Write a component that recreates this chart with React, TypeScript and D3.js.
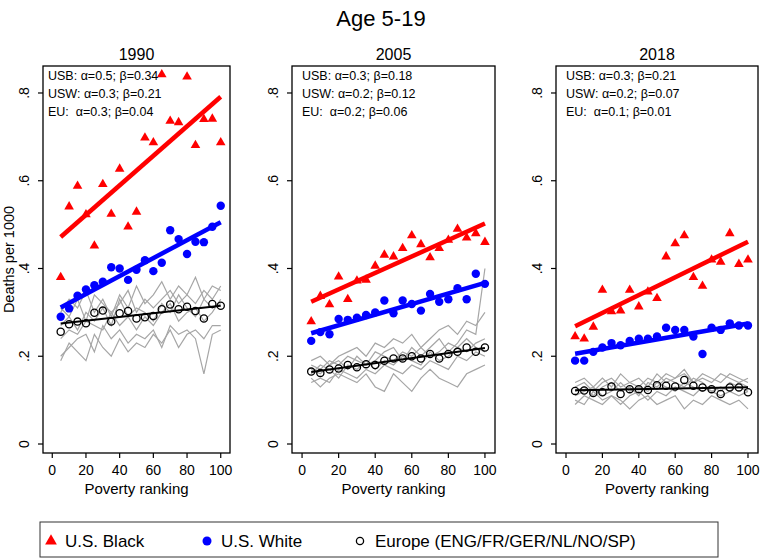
import React from "react";
import * as d3 from "d3";

// ---------- data ----------
const povertyRank = [5, 10, 15, 20, 25, 30, 35, 40, 45, 50, 55, 60, 65, 70, 75, 80, 85, 90, 95, 100];
const years = ["1990", "2005", "2018"];
const xTicks = [0, 20, 40, 60, 80, 100];
const yTicks = [0, 0.2, 0.4, 0.6, 0.8];
const yTickLabels = ["0", ".2", ".4", ".6", ".8"];

const usBlack1990 = [0.38, 0.541, 0.588, 0.523, 0.452, 0.592, 0.524, 0.627, 0.495, 0.529, 0.698, 0.687, 0.842, 0.736, 0.733, 0.837, 0.681, 0.74, 0.741, 0.687];
const usWhite1990 = [0.29, 0.309, 0.338, 0.352, 0.362, 0.37, 0.403, 0.4, 0.374, 0.397, 0.419, 0.394, 0.413, 0.487, 0.467, 0.433, 0.461, 0.46, 0.495, 0.543];
const europe1990 = [0.256, 0.273, 0.279, 0.275, 0.299, 0.304, 0.279, 0.298, 0.303, 0.286, 0.289, 0.292, 0.307, 0.318, 0.307, 0.313, 0.303, 0.286, 0.319, 0.315];
const countries1990 = [
  [0.2, 0.22, 0.24, 0.25, 0.21, 0.27, 0.24, 0.26, 0.23, 0.25, 0.24, 0.26, 0.22, 0.27, 0.25, 0.26, 0.24, 0.16, 0.25, 0.26],
  [0.3, 0.33, 0.31, 0.35, 0.3, 0.33, 0.29, 0.34, 0.31, 0.36, 0.32, 0.34, 0.37, 0.33, 0.36, 0.34, 0.38, 0.33, 0.36, 0.35],
  [0.27, 0.29, 0.26, 0.3, 0.28, 0.31, 0.27, 0.33, 0.29, 0.31, 0.3, 0.28, 0.32, 0.3, 0.34, 0.31, 0.29, 0.33, 0.31, 0.32],
  [0.24, 0.26, 0.25, 0.28, 0.27, 0.26, 0.3, 0.27, 0.29, 0.26, 0.29, 0.27, 0.3, 0.32, 0.28, 0.3, 0.31, 0.28, 0.3, 0.33],
  [0.31, 0.29, 0.33, 0.28, 0.34, 0.32, 0.3, 0.32, 0.35, 0.3, 0.33, 0.31, 0.33, 0.35, 0.32, 0.34, 0.32, 0.35, 0.33, 0.36],
  [0.19, 0.23, 0.21, 0.19, 0.25, 0.22, 0.2, 0.24, 0.21, 0.23, 0.22, 0.25, 0.23, 0.26, 0.22, 0.25, 0.26, 0.24, 0.27, 0.27],
];

const usBlack2005 = [0.279, 0.337, 0.318, 0.381, 0.33, 0.372, 0.374, 0.406, 0.431, 0.427, 0.446, 0.475, 0.455, 0.425, 0.446, 0.465, 0.49, 0.47, 0.48, 0.46];
const usWhite2005 = [0.235, 0.255, 0.25, 0.285, 0.283, 0.288, 0.294, 0.3, 0.327, 0.298, 0.327, 0.319, 0.304, 0.342, 0.324, 0.33, 0.355, 0.33, 0.388, 0.365];
const europe2005 = [0.165, 0.162, 0.17, 0.172, 0.18, 0.175, 0.182, 0.18, 0.19, 0.195, 0.195, 0.2, 0.195, 0.205, 0.195, 0.205, 0.21, 0.22, 0.21, 0.22];
const countries2005 = [
  [0.15, 0.13, 0.15, 0.16, 0.15, 0.14, 0.16, 0.13, 0.12, 0.16, 0.14, 0.12, 0.15, 0.17, 0.15, 0.14, 0.13, 0.16, 0.17, 0.18],
  [0.18, 0.17, 0.19, 0.18, 0.2, 0.19, 0.18, 0.21, 0.2, 0.19, 0.21, 0.2, 0.22, 0.2, 0.21, 0.23, 0.22, 0.21, 0.23, 0.24],
  [0.16, 0.18, 0.17, 0.15, 0.18, 0.17, 0.19, 0.17, 0.19, 0.18, 0.2, 0.19, 0.18, 0.21, 0.19, 0.2, 0.22, 0.24, 0.22, 0.21],
  [0.17, 0.16, 0.18, 0.19, 0.17, 0.2, 0.18, 0.19, 0.21, 0.22, 0.19, 0.22, 0.2, 0.22, 0.24, 0.21, 0.23, 0.26, 0.25, 0.4],
  [0.14, 0.15, 0.14, 0.17, 0.16, 0.15, 0.17, 0.16, 0.18, 0.17, 0.16, 0.18, 0.17, 0.19, 0.18, 0.17, 0.2, 0.19, 0.21, 0.2],
  [0.19, 0.2, 0.18, 0.2, 0.21, 0.22, 0.2, 0.23, 0.22, 0.24, 0.23, 0.25, 0.22, 0.24, 0.26, 0.27, 0.25, 0.28, 0.27, 0.3],
];

const usBlack2018 = [0.245, 0.24, 0.267, 0.351, 0.302, 0.304, 0.351, 0.313, 0.347, 0.332, 0.427, 0.457, 0.475, 0.38, 0.36, 0.42, 0.415, 0.48, 0.41, 0.42];
const usWhite2018 = [0.19, 0.19, 0.21, 0.22, 0.23, 0.225, 0.235, 0.24, 0.24, 0.245, 0.265, 0.26, 0.26, 0.245, 0.205, 0.265, 0.26, 0.275, 0.27, 0.27];
const europe2018 = [0.121, 0.122, 0.116, 0.118, 0.131, 0.114, 0.125, 0.125, 0.123, 0.134, 0.133, 0.131, 0.146, 0.133, 0.129, 0.125, 0.114, 0.129, 0.129, 0.118];
const countries2018 = [
  [0.09, 0.11, 0.1, 0.09, 0.11, 0.1, 0.08, 0.1, 0.11, 0.09, 0.1, 0.11, 0.08, 0.1, 0.09, 0.11, 0.1, 0.09, 0.1, 0.08],
  [0.13, 0.14, 0.12, 0.14, 0.15, 0.13, 0.14, 0.15, 0.13, 0.16, 0.14, 0.15, 0.17, 0.14, 0.15, 0.14, 0.16, 0.15, 0.14, 0.15],
  [0.11, 0.12, 0.13, 0.11, 0.12, 0.14, 0.12, 0.13, 0.12, 0.14, 0.13, 0.12, 0.14, 0.13, 0.12, 0.13, 0.12, 0.14, 0.13, 0.12],
  [0.12, 0.13, 0.11, 0.13, 0.14, 0.12, 0.13, 0.11, 0.14, 0.13, 0.15, 0.14, 0.13, 0.15, 0.14, 0.12, 0.13, 0.12, 0.14, 0.13],
  [0.1, 0.09, 0.12, 0.1, 0.11, 0.09, 0.11, 0.12, 0.1, 0.12, 0.11, 0.13, 0.12, 0.11, 0.13, 0.12, 0.11, 0.12, 0.11, 0.12],
  [0.14, 0.15, 0.13, 0.15, 0.13, 0.16, 0.14, 0.13, 0.15, 0.14, 0.16, 0.15, 0.16, 0.14, 0.16, 0.15, 0.14, 0.16, 0.15, 0.14],
];

const annot1990 = ["USB: α=0.5; β=0.34", "USW: α=0.3; β=0.21", "EU:  α=0.3; β=0.04"];
const annot2005 = ["USB: α=0.3; β=0.18", "USW: α=0.2; β=0.12", "EU:  α=0.2; β=0.06"];
const annot2018 = ["USB: α=0.3; β=0.21", "USW: α=0.2; β=0.07", "EU:  α=0.1; β=0.01"];

const legendLabels = ["U.S. Black", "U.S. White", "Europe (ENG/FR/GER/NL/NO/SP)"];

const panelData = [
  { black: usBlack1990, white: usWhite1990, eu: europe1990, countries: countries1990, annot: annot1990 },
  { black: usBlack2005, white: usWhite2005, eu: europe2005, countries: countries2005, annot: annot2005 },
  { black: usBlack2018, white: usWhite2018, eu: europe2018, countries: countries2018, annot: annot2018 },
];

// ---------- layout ----------
const W = 762;
const H = 560;
const FONT = "'Liberation Sans', Arial, Helvetica, sans-serif";
const panelBox = [
  { left: 43, right: 230 },
  { left: 292, right: 495 },
  { left: 556, right: 758 },
];
const TOP = 66;
const BOTTOM = 453;
const RED = "#ff0000";
const BLUE = "#0000ff";
const GRAY = "#a6a6a6";

function ols(xs: number[], ys: number[]) {
  const mx = d3.mean(xs) as number;
  const my = d3.mean(ys) as number;
  let sxy = 0, sxx = 0;
  xs.forEach((x, i) => { sxy += (x - mx) * (ys[i] - my); sxx += (x - mx) * (x - mx); });
  const b = sxy / sxx;
  return { a: my - b * mx, b };
}

const y = d3.scaleLinear().domain([-0.0205, 0.8615]).range([BOTTOM, TOP]);

function Panel({ idx }: { idx: number }) {
  const box = panelBox[idx];
  const d = panelData[idx];
  const x = d3.scaleLinear().domain([-5.5, 105.5]).range([box.left, box.right]);
  const line = d3.line<number>().x((_, i) => x(povertyRank[i])).y((v) => y(v));
  const tri = d3.symbol(d3.symbolTriangle, 40)() as string;
  const xMin = d3.min(povertyRank) as number;
  const xMax = d3.max(povertyRank) as number;
  const fit = (vals: number[], color: string, w: number) => {
    const { a, b } = ols(povertyRank, vals);
    return (
      <line x1={x(xMin)} y1={y(a + b * xMin)} x2={x(xMax)} y2={y(a + b * xMax)} stroke={color} strokeWidth={w} />
    );
  };
  const cx = (box.left + box.right) / 2;
  return (
    <g>
      <text x={cx} y={60} textAnchor="middle" fontSize={16} fontFamily={FONT}>{years[idx]}</text>
      {d.countries.map((c, i) => (
        <path key={i} d={line(c) as string} fill="none" stroke={GRAY} strokeWidth={1.2} />
      ))}
      {d.eu.map((v, i) => (
        <circle key={i} cx={x(povertyRank[i])} cy={y(v)} r={3.6} fill="none" stroke="#000" strokeWidth={1.3} />
      ))}
      {d.white.map((v, i) => (
        <circle key={i} cx={x(povertyRank[i])} cy={y(v)} r={4.2} fill={BLUE} />
      ))}
      {d.black.map((v, i) => (
        <path key={i} d={tri} transform={`translate(${x(povertyRank[i])},${y(v)})`} fill={RED} />
      ))}
      {fit(d.black, RED, 4.5)}
      {fit(d.white, BLUE, 4.5)}
      {fit(d.eu, "#000", 2)}
      <rect x={box.left} y={TOP} width={box.right - box.left} height={BOTTOM - TOP} fill="none" stroke="#000" strokeWidth={1.3} />
      {d.annot.map((t, i) => (
        <text key={i} x={box.left + (idx === 0 ? 5 : 10)} y={80 + i * 18} fontSize={12.5} fontFamily={FONT} style={{ whiteSpace: "pre" }}>{t}</text>
      ))}
      {yTicks.map((t, i) => (
        <g key={i}>
          <line x1={box.left - 5} x2={box.left} y1={y(t)} y2={y(t)} stroke="#000" strokeWidth={1.2} />
          <text transform={`translate(${box.left - 14},${y(t)}) rotate(-90)`} textAnchor="middle" fontSize={14} fontFamily={FONT}>{yTickLabels[i]}</text>
        </g>
      ))}
      {xTicks.map((t) => (
        <g key={t}>
          <line x1={x(t)} x2={x(t)} y1={BOTTOM} y2={BOTTOM + 5} stroke="#000" strokeWidth={1.2} />
          <text x={x(t)} y={475} textAnchor="middle" fontSize={14} fontFamily={FONT}>{t}</text>
        </g>
      ))}
      <text x={cx} y={494} textAnchor="middle" fontSize={15} fontFamily={FONT}>Poverty ranking</text>
    </g>
  );
}

export default function App() {
  const tri = d3.symbol(d3.symbolTriangle, 60)() as string;
  return (
    <svg width={W} height={H} style={{ display: "block", position: "absolute", left: 0, top: 0, background: "#fff" }}>
      <rect x={0} y={0} width={W} height={H} fill="#fff" />
      <text x={381} y={26} textAnchor="middle" fontSize={22} fontFamily={FONT}>Age 5-19</text>
      <text transform={`translate(14,${(TOP + BOTTOM) / 2}) rotate(-90)`} textAnchor="middle" fontSize={14.5} fontFamily={FONT}>Deaths per 1000</text>
      {[0, 1, 2].map((i) => <Panel key={i} idx={i} />)}
      <rect x={40} y={522} width={678} height={35} fill="#fff" stroke="#333" strokeWidth={1} />
      <path d={tri} transform="translate(51,541)" fill={RED} />
      <text x={65} y={547} fontSize={17} fontFamily={FONT}>{legendLabels[0]}</text>
      <circle cx={207} cy={541} r={4.5} fill={BLUE} />
      <text x={221} y={547} fontSize={17} fontFamily={FONT}>{legendLabels[1]}</text>
      <circle cx={360} cy={541} r={3.6} fill="none" stroke="#000" strokeWidth={1.3} />
      <text x={375} y={547} fontSize={17} fontFamily={FONT}>{legendLabels[2]}</text>
    </svg>
  );
}
